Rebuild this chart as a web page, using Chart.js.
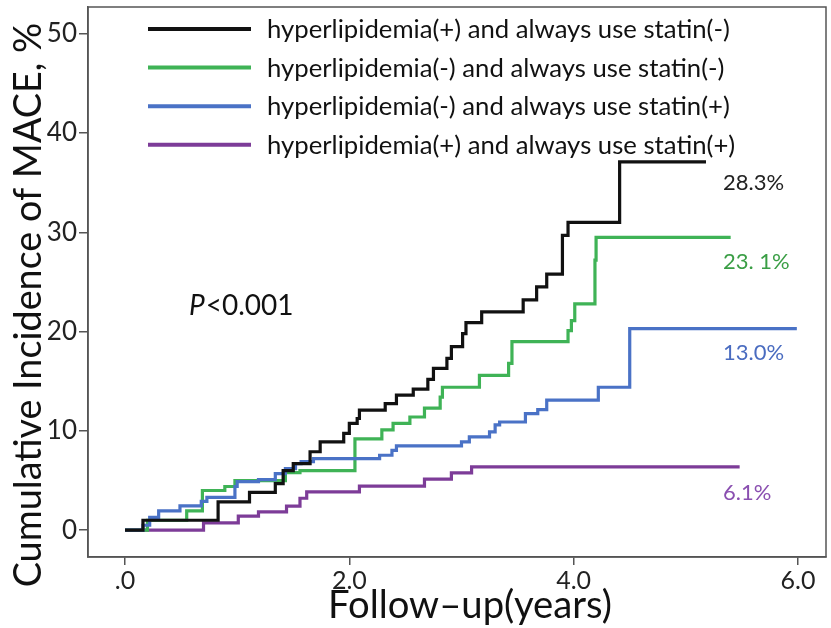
<!DOCTYPE html>
<html>
<head>
<meta charset="utf-8">
<script src="https://cdn.jsdelivr.net/npm/chart.js@4.4.1/dist/chart.umd.min.js"></script>
<style>
  html, body { margin: 0; padding: 0; background: #fff; }
  #wrap { width: 831px; height: 628px; }
</style>
</head>
<body>
<div id="wrap"><canvas id="kmChart"></canvas></div>
<script>
// DATA (follow-up years / cumulative incidence %)
const seriesNames = [
  "hyperlipidemia(+) and always use statin(-)",
  "hyperlipidemia(-) and always use statin(-)",
  "hyperlipidemia(-) and always use statin(+)",
  "hyperlipidemia(+) and always use statin(+)"
];
const seriesColors = ["#111111", "#3fb356", "#4a72c6", "#7d3c98"];

const blackX = [0, 0.16, 0.83, 1.11, 1.34, 1.41, 1.50, 1.65, 1.74, 1.95, 2.00, 2.07, 2.09, 2.32, 2.42, 2.57, 2.70, 2.75, 2.87, 2.91, 3.01, 3.04, 3.18, 3.55, 3.67, 3.76, 3.90, 3.95, 4.41, 5.18];
const blackY = [0, 1.0, 2.85, 3.8, 4.7, 6.0, 6.7, 7.9, 8.9, 9.75, 10.75, 11.25, 12.1, 12.75, 13.6, 14.2, 15.2, 16.3, 17.3, 18.5, 19.8, 20.9, 22.0, 23.2, 24.5, 25.8, 29.7, 31.0, 37.1, 37.1];

const greenX = [0, 0.20, 0.55, 0.69, 0.89, 0.98, 1.43, 1.56, 2.05, 2.29, 2.39, 2.54, 2.67, 2.81, 2.83, 3.16, 3.42, 3.45, 3.95, 3.98, 4.01, 4.19, 4.20, 5.40];
const greenY = [0, 1.0, 1.95, 4.0, 4.4, 5.0, 5.8, 6.0, 9.2, 10.1, 10.75, 11.4, 12.3, 13.4, 14.4, 15.6, 16.8, 19.0, 20.1, 21.1, 22.8, 27.2, 29.5, 29.5];

const blueX = [0, 0.16, 0.22, 0.30, 0.49, 0.68, 0.73, 0.98, 1.00, 1.19, 1.34, 1.43, 1.52, 1.57, 1.68, 2.27, 2.38, 2.42, 3.00, 3.07, 3.25, 3.30, 3.34, 3.57, 3.68, 3.76, 4.22, 4.50, 5.99];
const blueY = [0, 0.5, 1.3, 1.95, 2.45, 2.9, 3.3, 4.4, 4.9, 5.1, 5.7, 6.2, 6.7, 6.9, 7.2, 7.55, 8.05, 8.5, 8.9, 9.4, 9.9, 10.6, 10.9, 11.75, 12.15, 13.1, 14.4, 20.3, 20.3];

const purpleX = [0, 0.70, 1.01, 1.19, 1.44, 1.56, 1.62, 2.09, 2.67, 2.91, 3.09, 5.48];
const purpleY = [0, 0.74, 1.41, 1.84, 2.42, 3.22, 3.86, 4.43, 5.14, 5.77, 6.37, 6.37];

const endLabels = ["28.3%", "23. 1%", "13.0%", "6.1%"];
const endLabelColors = ["#222222", "#3a9e45", "#4a6cc0", "#8a4fb0"];

const xTicks = [0, 2, 4, 6];
const yTicks = [0, 10, 20, 30, 40, 50];

const FONT = "Lato, 'Open Sans', sans-serif";

function toPoints(xs, ys){
  return xs.map((x, i) => ({x: x, y: ys[i]}));
}

// fit a font size so the text gets a given width
function fitSize(ctx, text, width, style){
  ctx.font = (style || "") + "100px " + FONT;
  return 100 * width / ctx.measureText(text).width;
}

// FRAME + TEXT PLUGIN
const decorPlugin = {
  id: "decor",
  afterDraw(chart){
    const ctx = chart.ctx;
    const a = chart.chartArea;
    ctx.save();

    // box round plot
    ctx.strokeStyle = "#555";
    ctx.lineWidth = 1.5;
    ctx.strokeRect(a.left, a.top, a.right - a.left, a.bottom - a.top);

    // legend inside plot
    ctx.textBaseline = "middle";
    ctx.textAlign = "left";
    const legSize = fitSize(ctx, seriesNames[0], 463);
    seriesNames.forEach((name, i) => {
      const y = 29 + i * 38.6;
      ctx.strokeStyle = seriesColors[i];
      ctx.lineWidth = 4;
      ctx.beginPath();
      ctx.moveTo(148, y);
      ctx.lineTo(251, y);
      ctx.stroke();
      ctx.fillStyle = "#111";
      ctx.font = legSize + "px " + FONT;
      ctx.fillText(name, 267, y + 1);
    });

    // end labels
    const labelY = [183, 262, 353, 493];
    ctx.font = "22px " + FONT;
    endLabels.forEach((t, i) => {
      ctx.fillStyle = endLabelColors[i];
      ctx.fillText(t, 723, labelY[i]);
    });

    // p value
    ctx.fillStyle = "#111";
    ctx.font = "italic 28px " + FONT;
    ctx.fillText("P", 189, 306);
    const pw = ctx.measureText("P").width;
    ctx.font = "28px " + FONT;
    ctx.fillText("<0.001", 189 + pw + 1, 306);

    // axis titles
    ctx.textAlign = "center";
    const xt = "Follow\u2013up(years)";
    ctx.font = fitSize(ctx, xt, 284) + "px " + FONT;
    ctx.fillText(xt, 470, 606);

    const yt = "Cumulative Incidence of MACE, %";
    ctx.font = fitSize(ctx, yt, 565) + "px " + FONT;
    ctx.translate(29, 305);
    ctx.rotate(-Math.PI / 2);
    ctx.fillText(yt, 0, 0);
    ctx.restore();
  }
};

const datasets = [
  {data: toPoints(blackX, blackY), borderColor: seriesColors[0], order: 1},
  {data: toPoints(blueX, blueY), borderColor: seriesColors[2], order: 2},
  {data: toPoints(greenX, greenY), borderColor: seriesColors[1], order: 3},
  {data: toPoints(purpleX, purpleY), borderColor: seriesColors[3], order: 4}
];

new Chart(document.getElementById("kmChart"), {
  type: "line",
  data: {datasets: datasets},
  plugins: [decorPlugin],
  options: {
    responsive: true,
    maintainAspectRatio: false,
    animation: false,
    layout: {padding: {top: 7, right: 5, left: 0, bottom: 0}},
    elements: {
      point: {radius: 0},
      line: {borderWidth: 3.2, stepped: "before", fill: false}
    },
    plugins: {legend: {display: false}, tooltip: {enabled: false}},
    scales: {
      x: {
        type: "linear",
        min: -0.33,
        max: 6.25,
        afterBuildTicks: s => { s.ticks = xTicks.map(v => ({value: v})); },
        afterFit: s => { s.height = 71; s.paddingLeft = 0; s.paddingRight = 0; },
        ticks: {
          callback: v => v === 0 ? ".0" : v.toFixed(1),
          font: {family: FONT, size: 25},
          color: "#222",
          padding: 1,
          maxRotation: 0,
          autoSkip: false
        },
        grid: {drawOnChartArea: false, drawTicks: true, tickLength: 8, color: "#555", lineWidth: 1.5},
        border: {display: true, color: "#555", width: 1.5}
      },
      y: {
        min: -2.7,
        max: 52.7,
        afterBuildTicks: s => { s.ticks = yTicks.map(v => ({value: v})); },
        afterFit: s => { s.width = 88; s.paddingTop = 0; s.paddingBottom = 0; },
        ticks: {
          font: {family: FONT, size: 26},
          color: "#222",
          padding: 2
        },
        grid: {drawOnChartArea: false, drawTicks: true, tickLength: 9, color: "#555", lineWidth: 1.5},
        border: {display: true, color: "#555", width: 1.5}
      }
    }
  }
});
</script>
</body>
</html>
